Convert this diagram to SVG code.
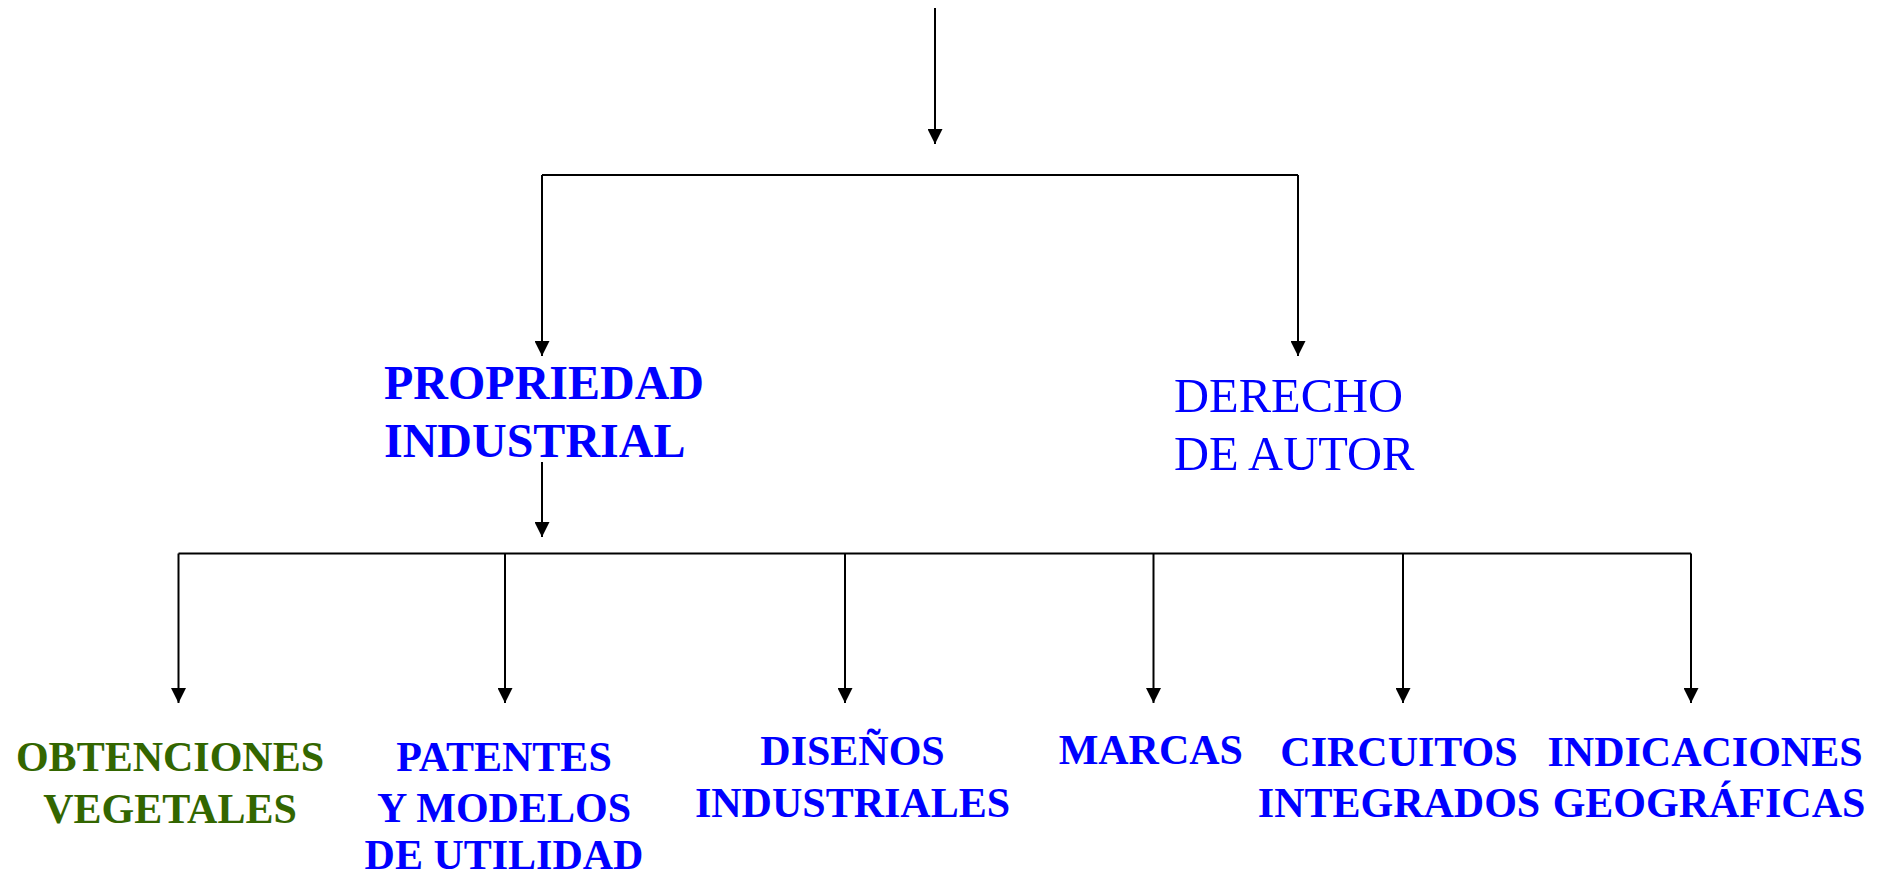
<svg xmlns="http://www.w3.org/2000/svg" width="1890" height="877" viewBox="0 0 1890 877">
  <style>
    .conn { stroke: #000; stroke-width: 2; fill: none; }
    .arr { marker-end: url(#ah); }
    .lbl { font-family: "Liberation Serif", "Times New Roman", serif; font-weight: bold; font-size: 42px; fill: #0000FF; text-anchor: middle; }
    .top { font-family: "Liberation Serif", "Times New Roman", serif; font-weight: bold; font-size: 48px; fill: #0000FF; }
    .reg { font-family: "Liberation Serif", "Times New Roman", serif; font-weight: normal; font-size: 48.5px; fill: #0000FF; }
    .green { fill: #336600; }
  </style>
  <defs>
    <marker id="ah" viewBox="0 0 15 15" refX="15" refY="7.5" markerWidth="15" markerHeight="15" markerUnits="userSpaceOnUse" orient="auto">
      <path d="M0,0 L15,7.5 L0,15 z" fill="#000"/>
    </marker>
  </defs>
  <rect width="1890" height="877" fill="#fff"/>
  <g id="connectors">
    <line class="conn arr" x1="935" y1="8" x2="935" y2="144"/>
    <line class="conn" x1="542" y1="175" x2="1298" y2="175"/>
    <line class="conn arr" x1="542" y1="175" x2="542" y2="356"/>
    <line class="conn arr" x1="1298" y1="175" x2="1298" y2="356"/>
    <line class="conn arr" x1="542" y1="462" x2="542" y2="537"/>
    <line class="conn" x1="178.5" y1="553.5" x2="1691" y2="553.5"/>
    <line class="conn arr" x1="178.5" y1="553.5" x2="178.5" y2="703"/>
    <line class="conn arr" x1="505" y1="553.5" x2="505" y2="703"/>
    <line class="conn arr" x1="845" y1="553.5" x2="845" y2="703"/>
    <line class="conn arr" x1="1153.5" y1="553.5" x2="1153.5" y2="703"/>
    <line class="conn arr" x1="1403" y1="553.5" x2="1403" y2="703"/>
    <line class="conn arr" x1="1691" y1="553.5" x2="1691" y2="703"/>
  </g>
  <g id="propiedad-industrial">
    <text class="top" x="384" y="399">PROPRIEDAD</text>
    <text class="top" x="384" y="457">INDUSTRIAL</text>
  </g>
  <g id="derecho-autor">
    <text class="reg" x="1174" y="412">DERECHO</text>
    <text class="reg" x="1174" y="470">DE AUTOR</text>
  </g>
  <g id="obtenciones-vegetales">
    <text class="lbl green" x="170" y="771">OBTENCIONES</text>
    <text class="lbl green" x="170" y="822.5">VEGETALES</text>
  </g>
  <g id="patentes">
    <text class="lbl" x="504" y="771">PATENTES</text>
    <text class="lbl" x="504" y="822">Y MODELOS</text>
    <text class="lbl" x="504" y="869">DE UTILIDAD</text>
  </g>
  <g id="disenos">
    <text class="lbl" x="852.5" y="765">DISEÑOS</text>
    <text class="lbl" x="852.5" y="816.7">INDUSTRIALES</text>
  </g>
  <g id="marcas">
    <text class="lbl" x="1150.8" y="764">MARCAS</text>
  </g>
  <g id="circuitos">
    <text class="lbl" x="1399" y="765.7">CIRCUITOS</text>
    <text class="lbl" x="1399" y="816.7">INTEGRADOS</text>
  </g>
  <g id="indicaciones">
    <text class="lbl" x="1705" y="765.7">INDICACIONES</text>
    <text class="lbl" x="1709" y="816.7">GEOGRÁFICAS</text>
  </g>
</svg>
